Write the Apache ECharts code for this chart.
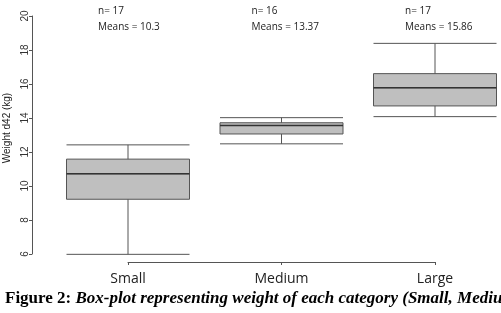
<!DOCTYPE html>
<html>
<head>
<meta charset="utf-8">
<script src="https://cdn.jsdelivr.net/npm/echarts@6/dist/echarts.min.js"></script>
<style>
  html, body { margin: 0; padding: 0; background: #fff; }
  #chart { width: 501px; height: 313px; }
</style>
</head>
<body>
<div id="chart"></div>
<script>
// categories and box stats: [min, Q1, median, Q3, max]
var categories = ['Small', 'Medium', 'Large'];
var boxStats = [
    [5.98, 9.22, 10.72, 11.58, 12.42],
    [12.48, 13.06, 13.56, 13.72, 14.02],
    [14.08, 14.71, 15.78, 16.61, 18.39]
];
var counts = [17, 16, 17];
var means = ['10.3', '13.37', '15.86'];
var yTicks = { min: 6, max: 20, interval: 2 };

var chart = echarts.init(document.getElementById('chart'), null, { renderer: 'canvas' });

var option = {
    backgroundColor: '#fff',
    animation: false,
    grid: { left: 128, right: 66, top: 16, bottom: 59, outerBoundsMode: 'none', containLabel: false },
    xAxis: {
        type: 'category',
        data: categories,
        boundaryGap: false,
        offset: 8,
        axisLine: { lineStyle: { color: '#555', width: 1 } },
        axisTick: { length: 3, lineStyle: { color: '#555' } },
        axisLabel: {
            margin: 10,
            fontFamily: 'Open Sans',
            fontSize: 14,
            color: '#222'
        },
        splitLine: { show: false }
    },
    yAxis: {
        type: 'value',
        min: yTicks.min,
        max: yTicks.max,
        interval: yTicks.interval,
        offset: 96,
        name: 'Weight d42 (kg)',
        nameLocation: 'middle',
        nameGap: 18,
        nameRotate: 90,
        nameTextStyle: {
            fontFamily: 'Liberation Sans',
            fontSize: 10,
            color: '#222',
            padding: [0, 0, 0, 14]
        },
        axisLine: { show: true, lineStyle: { color: '#555', width: 1 } },
        axisTick: { show: true, length: 3, lineStyle: { color: '#555' } },
        axisLabel: {
            rotate: 90,
            margin: 2,
            fontFamily: 'Liberation Sans',
            fontSize: 10,
            color: '#333'
        },
        splitLine: { show: false }
    },
    series: [{
        type: 'boxplot',
        data: boxStats,
        boxWidth: [123, 123],
        itemStyle: {
            color: '#bfbfbf',
            borderColor: '#555',
            borderWidth: 1
        },
        emphasis: { disabled: true }
    }]
};
chart.setOption(option);

// overlay the two-line annotations over each box and the figure caption
var graphics = [];
categories.forEach(function (c, i) {
    var x = chart.convertToPixel({ xAxisIndex: 0 }, c) - 30;
    graphics.push({
        type: 'text', left: x, top: 6, z: 50,
        style: { text: 'n= ' + counts[i], font: '10px "Open Sans"', fill: '#222' }
    });
    graphics.push({
        type: 'text', left: x, top: 22, z: 50,
        style: { text: 'Means = ' + means[i], font: '10px "Open Sans"', fill: '#222' }
    });
});

// median lines drawn darker, from box stats
boxStats.forEach(function (b, i) {
    var cx = chart.convertToPixel({ xAxisIndex: 0 }, categories[i]);
    var y = chart.convertToPixel({ yAxisIndex: 0 }, b[2]);
    graphics.push({
        type: 'line', z: 60,
        shape: { x1: cx - 61.5, y1: y, x2: cx + 61.5, y2: y },
        style: { stroke: '#333', lineWidth: 1.6 }
    });
});

graphics.push({
    type: 'rect', z: 90,
    shape: { x: 0, y: 287, width: 501, height: 26 },
    style: { fill: '#fff' }
});
graphics.push({
    type: 'text', left: 5, top: 290, z: 100,
    style: {
        text: '{a|Figure 2: }{b|Box-plot representing weight of each category (Small, Medium, Large)}',
        rich: {
            a: { fontFamily: 'Liberation Serif', fontWeight: 'bold', fontSize: 17, fill: '#000' },
            b: { fontFamily: 'Liberation Serif', fontWeight: 'bold', fontStyle: 'italic', fontSize: 17, fill: '#000' }
        }
    }
});
chart.setOption({ graphic: graphics });
</script>
</body>
</html>
